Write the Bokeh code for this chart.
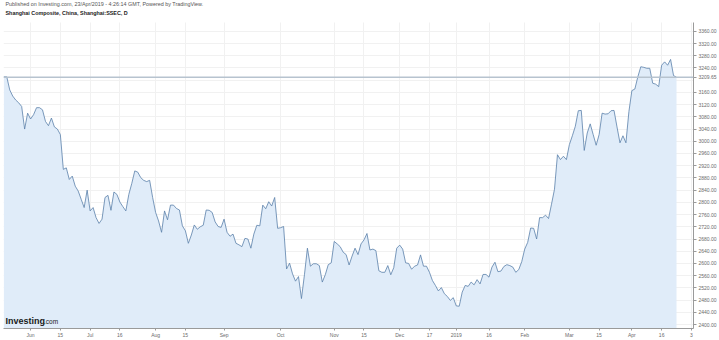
from bokeh.plotting import figure
from bokeh.models import Range1d, FixedTicker, Label, Span, NumeralTickFormatter
from bokeh.embed import file_html
from bokeh.resources import INLINE

# Shanghai Composite daily closes (trading-session order)
closes = [3211, 3211, 3168, 3148, 3135, 3126, 3114, 3040, 3092, 3073,
          3087, 3110, 3110, 3103, 3065, 3051, 3076, 3047, 3040, 3022,
          2908, 2913, 2875, 2886, 2853, 2837, 2810, 2783, 2840, 2772,
          2783, 2750, 2731, 2745, 2816, 2823, 2774, 2834, 2826, 2801,
          2786, 2772, 2826, 2862, 2903, 2899, 2881, 2872, 2868, 2872,
          2816, 2767, 2739, 2702, 2772, 2743, 2791, 2791, 2780, 2775,
          2723, 2707, 2666, 2693, 2726, 2712, 2720, 2725, 2775, 2774,
          2767, 2736, 2721, 2718, 2745, 2702, 2689, 2696, 2666, 2661,
          2655, 2682, 2680, 2650, 2696, 2725, 2723, 2791, 2779, 2802,
          2788, 2816, 2715, 2717, 2721, 2582, 2601, 2566, 2542, 2557,
          2485, 2563, 2650, 2591, 2599, 2599, 2593, 2539, 2563, 2596,
          2602, 2672, 2664, 2655, 2637, 2629, 2595, 2624, 2650, 2629,
          2664, 2677, 2698, 2644, 2647, 2642, 2576, 2571, 2571, 2593,
          2563, 2586, 2650, 2660, 2647, 2602, 2600, 2581, 2591, 2595,
          2628, 2591, 2591, 2571, 2544, 2528, 2510, 2521, 2501, 2492,
          2479, 2488, 2461, 2460, 2506, 2528, 2525, 2539, 2530, 2547,
          2533, 2564, 2564, 2555, 2588, 2604, 2573, 2575, 2590, 2596,
          2593, 2588, 2571, 2580, 2606, 2647, 2669, 2716, 2715, 2680,
          2750, 2750, 2758, 2747, 2794, 2843, 2956, 2940, 2951, 2940,
          2989, 3018, 3049, 3100, 3101, 2970, 3027, 3057, 3022, 2987,
          3022, 3092, 3089, 3090, 3100, 3101, 3047, 2995, 3018, 2995,
          3097, 3166, 3171, 3211, 3244, 3242, 3239, 3239, 3190, 3187,
          3179, 3249, 3260, 3249, 3268, 3215, 3209.65]
sessions = list(range(len(closes)))

# x-axis tick labels at trading-session positions
tick_sessions = [9, 19, 29, 39, 51, 61, 74, 93, 111, 121, 133, 143, 152, 163, 175, 190, 200, 211, 221, 231]
tick_labels = ["Jun", "15", "Jul", "16", "Aug", "15", "Sep", "Oct", "Nov", "15",
               "Dec", "17", "2019", "16", "Feb", "Mar", "15", "Apr", "16", "3"]
y_ticks = list(range(2400, 3361, 40))

title_line1 = "Published on Investing.com, 23/Apr/2019 - 4:26:14 GMT, Powered by TradingView."
title_line2 = "Shanghai Composite, China, Shanghai:SSEC, D"

FONT = "Liberation Sans"
last = closes[-1]

# frame spans the full height above the x axis; chart area starts ~22px down
y_lo, y_hi = 2387.0, 3460.9
y_axis_top = 3389.3
p = figure(width=719, height=340, output_backend="svg", toolbar_location=None,
           x_range=Range1d(-0.1, 231.7), y_range=Range1d(y_lo, y_hi),
           y_axis_location="right", x_axis_location="below",
           min_border_left=3, min_border_right=22, min_border_top=0, min_border_bottom=10)
p.outline_line_color = None
p.background_fill_color = "white"
p.border_fill_color = "white"

# area + line
p.varea(x=sessions, y1=[y_lo] * len(closes), y2=closes, fill_color="#e0ecf9", fill_alpha=1.0)
p.line(sessions, closes, line_color="#5a80a9", line_width=0.8)

# last price line
p.add_layout(Span(location=last, dimension="width", line_color="#b7c3cf", line_width=1.5))

# y axis (includes the last price as a tick)
ya = p.yaxis[0]
ya.ticker = FixedTicker(ticks=[t for t in y_ticks if abs(t - last) > 20] + [last])
ya.formatter = NumeralTickFormatter(format="0.00")
ya.bounds = (y_lo, y_axis_top)
ya.axis_line_color = "#9a9a9a"
ya.major_tick_line_color = "#9a9a9a"
ya.major_tick_out = 3
ya.major_tick_in = 0
ya.minor_tick_line_color = None
ya.major_label_text_font = FONT
ya.major_label_text_font_size = "5px"
ya.major_label_text_color = "#6b6b6b"
ya.major_label_standoff = 2

# x axis
xa = p.xaxis[0]
xa.ticker = FixedTicker(ticks=tick_sessions)
xa.major_label_overrides = {s: l for s, l in zip(tick_sessions, tick_labels)}
xa.axis_line_color = "#9a9a9a"
xa.major_tick_line_color = "#9a9a9a"
xa.major_tick_out = 2
xa.major_tick_in = 0
xa.minor_tick_line_color = None
xa.major_label_text_font = FONT
xa.major_label_text_font_size = "5px"
xa.major_label_text_color = "#6b6b6b"
xa.major_label_standoff = 1

xg = p.xgrid[0]
xg.grid_line_color = "#f1f1f1"
if "cross_bounds" in xg.properties():
    xg.cross_bounds = (y_lo, y_axis_top)
p.ygrid.grid_line_color = "#f1f1f1"
p.ygrid.ticker = FixedTicker(ticks=y_ticks)

# titles (frame-relative screen coords; frame height 330)
p.add_layout(Label(x=2, y=325, x_units="screen", y_units="screen", text=title_line1,
                   text_font=FONT, text_font_size="5.4px", text_color="#555555",
                   text_baseline="middle"))
p.add_layout(Label(x=2, y=316, x_units="screen", y_units="screen", text=title_line2,
                   text_font=FONT, text_font_size="5.4px", text_font_style="bold",
                   text_color="#222222", text_baseline="middle"))

# Investing.com logo
p.add_layout(Label(x=2, y=8, x_units="screen", y_units="screen", text="Investing",
                   text_font=FONT, text_font_size="9px", text_font_style="bold",
                   text_color="#1a1a1a", text_baseline="middle"))
p.add_layout(Label(x=40.5, y=7.5, x_units="screen", y_units="screen", text=".com",
                   text_font=FONT, text_font_size="6.5px",
                   text_color="#1a1a1a", text_baseline="middle"))

open("out.html", "w").write(file_html(p, INLINE))
